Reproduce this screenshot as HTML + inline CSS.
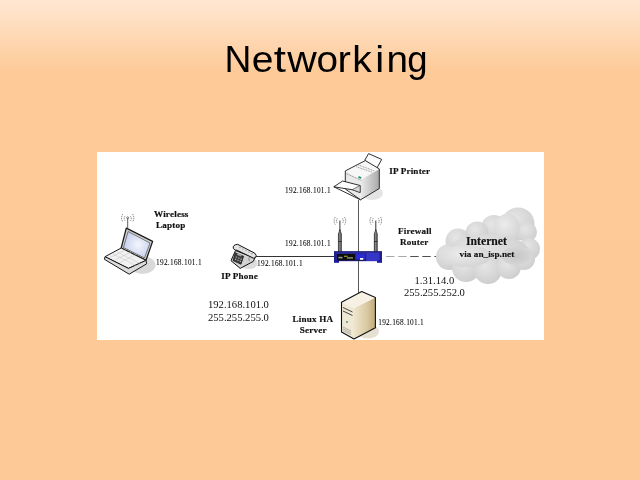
<!DOCTYPE html>
<html><head><meta charset="utf-8">
<style>
html,body{margin:0;padding:0;width:640px;height:480px;overflow:hidden}
body{background:linear-gradient(to bottom,#ffe7d2 0px,#fdca98 72px,#fdc997 480px);position:relative}
svg{position:absolute;left:0;top:0;will-change:transform}
.t{font-family:"Liberation Serif",serif;fill:#111}
.b{font-family:"Liberation Serif",serif;font-weight:bold;fill:#111}
</style></head><body>
<svg width="640" height="480" viewBox="0 0 640 480">
<defs>
<radialGradient id="scr" cx="0.55" cy="0.5" r="0.6"><stop offset="0" stop-color="#f4f6fc"/><stop offset="1" stop-color="#c2cdec"/></radialGradient>
<linearGradient id="side" x1="0" y1="0" x2="1" y2="0"><stop offset="0" stop-color="#ececec"/><stop offset="1" stop-color="#a8a8a8"/></linearGradient>
<linearGradient id="pbody" x1="0" y1="0" x2="1" y2="1"><stop offset="0" stop-color="#e6e6e6"/><stop offset="1" stop-color="#b0b0b0"/></linearGradient>
<linearGradient id="beige" x1="0" y1="0" x2="1" y2="0"><stop offset="0" stop-color="#efe5cc"/><stop offset="0.6" stop-color="#d9c9a2"/><stop offset="1" stop-color="#bfa978"/></linearGradient>
<linearGradient id="ant" x1="0" y1="0" x2="1" y2="0"><stop offset="0" stop-color="#333"/><stop offset="0.5" stop-color="#999"/><stop offset="1" stop-color="#333"/></linearGradient>
<radialGradient id="lobe" cx="0.4" cy="0.35" r="0.7"><stop offset="0" stop-color="#e6e6e6"/><stop offset="1" stop-color="#cdcdcd"/></radialGradient>
<radialGradient id="lobe2" cx="0.4" cy="0.4" r="0.65"><stop offset="0" stop-color="#ececec"/><stop offset="1" stop-color="#d4d4d4"/></radialGradient>
<radialGradient id="lobe3" cx="0.5" cy="0.5" r="0.6"><stop offset="0" stop-color="#c6c6c6"/><stop offset="1" stop-color="#d8d8d8"/></radialGradient>
<linearGradient id="dash" gradientUnits="userSpaceOnUse" x1="386" y1="0" x2="434" y2="0"><stop offset="0" stop-color="#a8a8a8"/><stop offset="0.47" stop-color="#a8a8a8"/><stop offset="0.5" stop-color="#505050"/><stop offset="1" stop-color="#505050"/></linearGradient>
<filter id="blur2" x="-30%" y="-30%" width="160%" height="160%"><feGaussianBlur stdDeviation="3"/></filter>
</defs>
<g style="font-family:'Liberation Sans',sans-serif;font-size:36.5px;fill:#000"><text transform="translate(224.54 72) scale(1.02 1)">N</text><text transform="translate(251.66 72) scale(1.07 1)">e</text><text transform="translate(273.70 72) scale(1.2 1)">t</text><text transform="translate(287.24 72) scale(1.12 1)">w</text><text transform="translate(316.47 72) scale(1.06 1)">o</text><text transform="translate(337.50 72) scale(1.1 1)">r</text><text transform="translate(352.30 72) scale(1.07 1)">k</text><text transform="translate(375.30 72) scale(1.1 1)">i</text><text transform="translate(386.60 72) scale(1.06 1)">n</text><text transform="translate(407.20 72) scale(1.0 1)">g</text></g>
<rect x="97" y="152" width="447" height="188" fill="#fff"/>

<!-- lines -->
<line x1="358.5" y1="200" x2="358.5" y2="293" stroke="#5a5a5a" stroke-width="1"/>
<line x1="255" y1="256.5" x2="334" y2="256.5" stroke="#333" stroke-width="1"/>
<line x1="386.1" y1="256.5" x2="438" y2="256.5" stroke="url(#dash)" stroke-width="1" stroke-dasharray="8.4 3.67"/>

<!-- cloud -->
<g>
<circle cx="518" cy="224" r="16.5" fill="url(#lobe)"/>
<circle cx="527" cy="232" r="10" fill="url(#lobe)"/>
<circle cx="494" cy="228" r="13" fill="url(#lobe)"/>
<circle cx="477" cy="233" r="11.5" fill="url(#lobe)"/>
<circle cx="458" cy="241" r="12.5" fill="url(#lobe)"/>
<circle cx="529" cy="249" r="11" fill="url(#lobe)"/>
<ellipse cx="488" cy="254" rx="42" ry="20" fill="url(#lobe)"/>
<circle cx="449" cy="257" r="13" fill="url(#lobe)"/>
<circle cx="466" cy="268" r="14" fill="url(#lobe)"/>
<circle cx="488" cy="270" r="14" fill="url(#lobe)"/>
<circle cx="509" cy="267" r="12" fill="url(#lobe)"/>
<circle cx="524" cy="259" r="11" fill="url(#lobe)"/>
<circle cx="507" cy="227" r="13" fill="url(#lobe2)"/>
<ellipse cx="466" cy="256" rx="25" ry="11" fill="url(#lobe2)"/>
<ellipse cx="516" cy="256" rx="15" ry="9" fill="url(#lobe3)"/>
</g>
<!-- laptop -->
<ellipse cx="142.5" cy="265" rx="13" ry="9" fill="#d9d9d9"/>
<g stroke="#1a1a1a" stroke-width="1" stroke-linejoin="round">
<polygon points="126.3,228.2 152.6,241.4 146,260.4 121.2,248" fill="#d2d2d2" stroke-width="1.3"/>
<polygon points="128,231.5 150,243 144.5,258 123.5,247.5" fill="url(#scr)" stroke-width="0.5"/>
<polygon points="105,256.7 121.2,248 146,260.4 128.5,268.4" fill="#f1f1f1"/>
<polygon points="105,256.7 128.5,268.4 146,260.4 146.7,263.8 129.2,274.2 104.4,259.3" fill="#dcdcdc"/>
</g>
<g stroke="#c4c4c4" stroke-width="0.5">
<line x1="110" y1="257.5" x2="126" y2="249.5"/><line x1="115" y1="260" x2="131" y2="252"/><line x1="120" y1="262.5" x2="136" y2="254.5"/>
<line x1="113" y1="254" x2="136" y2="265.5"/><line x1="117" y1="252" x2="140" y2="263.5"/>
</g>
<line x1="127.7" y1="218.5" x2="127.7" y2="228.5" stroke="#333" stroke-width="0.8"/>
<g fill="none" stroke="#444" stroke-width="0.7" stroke-dasharray="1.2 0.8">
<path d="M125 216.3 Q123.3 218.5 125 220.7"/><path d="M122.8 214 Q120.3 218 122.8 222"/>
<path d="M130.5 216.3 Q132.2 218.5 130.5 220.7"/><path d="M132.6 214 Q135.1 218 132.6 222"/>
</g>
<circle cx="127.7" cy="217.8" r="1" fill="none" stroke="#333" stroke-width="0.6"/>

<!-- phone -->
<ellipse cx="249" cy="263.5" rx="8.5" ry="5.5" fill="#dcdcdc"/>
<g stroke="#111" stroke-width="1" stroke-linejoin="round">
<polygon points="235.5,250.5 254.8,258 253.3,261.4 240.2,268.4 231,260.7" fill="#d2d2d2"/>
<polygon points="235.3,252.8 243.6,256.3 241,264.2 233,260.6" fill="#3c3c3c" stroke-width="0.7"/>
<path d="M233.3,248.3 Q232.6,244.8 237.6,244.3 L254.8,253.2 Q257.3,255.5 255.6,257.6 L253.5,258.2 L237.2,250.3 Q234.6,250.8 233.3,248.3 Z" fill="#e2e2e2"/>
</g>
<g fill="#c8c8c8"><rect x="235.8" y="256.6" width="1.3" height="1" /><rect x="238.2" y="257.6" width="1.3" height="1"/><rect x="240.5" y="258.6" width="1.3" height="1"/><rect x="235" y="258.8" width="1.3" height="1"/><rect x="237.4" y="259.8" width="1.3" height="1"/><rect x="239.7" y="260.8" width="1.3" height="1"/></g>
<rect x="237" y="254" width="4.5" height="1.6" fill="#aaa" transform="rotate(23 239 255)"/>
<g fill="#777"><circle cx="240" cy="247.6" r="0.55"/><circle cx="243" cy="249.1" r="0.55"/><circle cx="246" cy="250.6" r="0.55"/><circle cx="249" cy="252.1" r="0.55"/><circle cx="252" cy="253.6" r="0.55"/></g>
<path d="M249.5 257 Q248 259 249.5 261" fill="none" stroke="#555" stroke-width="0.6"/>

<!-- printer -->
<ellipse cx="372" cy="193" rx="11" ry="7" fill="#e4e4e4"/>
<polygon points="364.8,160.2 368.6,153.6 381.7,159.4 376.1,169.5" fill="#fbfbfb" stroke="#1a1a1a" stroke-width="0.9" stroke-linejoin="round"/>
<polygon points="345.3,170.9 365.3,160.6 379.3,168.9 361.1,179.8" fill="#f7f7f7"/>
<polygon points="345.3,170.9 361.1,179.8 360.5,199.8 345.3,189" fill="#eaeaea"/>
<polygon points="361.1,179.8 379.3,168.9 379.3,188.5 360.5,199.8" fill="url(#side)"/>
<polygon points="345.3,170.9 365.3,160.6 379.3,168.9 379.3,188.5 360.5,199.8 345.3,189" fill="none" stroke="#1a1a1a" stroke-width="0.9" stroke-linejoin="round"/>
<g stroke="#555" stroke-width="0.6" stroke-dasharray="1 0.7">
<line x1="345.6" y1="173.3" x2="361.5" y2="180.5"/>
<line x1="356.4" y1="166.7" x2="372.3" y2="172.3"/>
<line x1="358.4" y1="165" x2="374" y2="170.8"/>
</g>
<polygon points="333.8,186.8 342.6,181 360.1,185.5 360.1,192.5 352.2,189.7" fill="#fdfdfd" stroke="#1a1a1a" stroke-width="0.9" stroke-linejoin="round"/>
<polygon points="352.2,189.7 360.1,185.5 360.1,192.5" fill="#d6d6d6" stroke="#333" stroke-width="0.6"/>
<line x1="333.8" y1="186.8" x2="360.5" y2="199.8" stroke="#1a1a1a" stroke-width="0.9"/>
<rect x="358.3" y="176.5" width="3" height="2" fill="#2a9a6a" transform="rotate(25 359.8 177.5)"/>

<!-- router -->
<g>
<path d="M338.4,252 L338.4,234 L339.9,229.5 L341.4,234 L341.4,252 Z" fill="url(#ant)" stroke="#1a1a1a" stroke-width="0.6"/>
<path d="M374.3,252 L374.3,234 L375.8,229.5 L377.3,234 L377.3,252 Z" fill="url(#ant)" stroke="#1a1a1a" stroke-width="0.6"/>
<line x1="338.4" y1="241.5" x2="341.4" y2="241.5" stroke="#222" stroke-width="0.8"/>
<line x1="374.3" y1="241.5" x2="377.3" y2="241.5" stroke="#222" stroke-width="0.8"/>
<line x1="339.9" y1="220.6" x2="339.9" y2="231" stroke="#1a1a1a" stroke-width="0.9"/>
<line x1="375.8" y1="220.6" x2="375.8" y2="231" stroke="#1a1a1a" stroke-width="0.9"/>
</g>
<g fill="none" stroke="#3a3a3a" stroke-width="0.65" stroke-dasharray="1.1 0.7">
<path d="M335.3 217 Q332.8 220.8 335.3 224.6"/><path d="M337.3 218.3 Q335.8 220.8 337.3 223.3"/>
<path d="M344.5 217 Q347 220.8 344.5 224.6"/><path d="M342.5 218.3 Q344 220.8 342.5 223.3"/>
<path d="M371.2 217 Q368.7 220.8 371.2 224.6"/><path d="M373.2 218.3 Q371.7 220.8 373.2 223.3"/>
<path d="M380.4 217 Q382.9 220.8 380.4 224.6"/><path d="M378.4 218.3 Q379.9 220.8 378.4 223.3"/>
</g>
<rect x="334" y="251.7" width="48" height="9.5" fill="#3636c6"/>
<rect x="334" y="251.2" width="48" height="1.2" fill="#1c1c6a"/>
<rect x="334" y="252" width="2.6" height="9.5" fill="#20208a"/>
<rect x="379.4" y="252" width="2.6" height="9.5" fill="#20208a"/>
<rect x="334" y="260.5" width="5" height="2.3" fill="#1a1aa0"/>
<rect x="377" y="260.5" width="5" height="2.3" fill="#1a1aa0"/>
<rect x="336.9" y="253.7" width="29.2" height="6.9" fill="#0d0d0d"/>
<rect x="355.2" y="253.7" width="10.5" height="6.1" fill="#2a2ad0"/>
<rect x="360" y="258" width="3.3" height="1.8" fill="#f4f4f4"/>
<rect x="338.5" y="256.8" width="4" height="1.6" fill="#999"/>
<rect x="344" y="255.8" width="3.5" height="0.8" fill="#d8e840"/>
<rect x="347" y="257.2" width="6" height="1.4" fill="#8a9a70"/>

<!-- server -->
<ellipse cx="368" cy="331.5" rx="11" ry="7" fill="#e6e0d2"/>
<polygon points="354,308 375.4,297.5 375.4,327.8 354,339" fill="url(#beige)"/>
<polygon points="341.5,302.2 354,308 354,339 341.5,332" fill="#efe8d4"/>
<polygon points="341.5,302.2 361.7,291.5 375.4,297.5 354,308" fill="#f6f1e4"/>
<polygon points="341.5,302.2 361.7,291.5 375.4,297.5 375.4,327.8 354,339 341.5,332" fill="none" stroke="#111" stroke-width="1.1" stroke-linejoin="round"/>
<g stroke="#333" stroke-width="0.9"><line x1="343" y1="307.5" x2="352.5" y2="312"/><line x1="343" y1="311" x2="352.5" y2="315.5"/></g>
<circle cx="347" cy="322" r="0.9" fill="#3a8a7a"/>
<g stroke="#777" stroke-width="0.5"><line x1="343" y1="327" x2="351" y2="331"/><line x1="343" y1="328.8" x2="351" y2="332.8"/><line x1="343" y1="330.6" x2="351" y2="334.6"/></g>

<!-- texts -->
<g class="b" font-size="9.1" letter-spacing="0.2" stroke="#111" stroke-width="0.18">
<text x="154" y="216.6">Wireless</text>
<text x="156" y="228">Laptop</text>
<text x="221.2" y="279.2">IP Phone</text>
<text x="389.2" y="173.7">IP Printer</text>
<text x="398" y="234">Firewall</text>
<text x="400" y="245">Router</text>
<text x="292.5" y="321.6">Linux HA</text>
<text x="299.7" y="332.6">Server</text>
</g>
<text class="b" x="466" y="245" font-size="11.7" stroke="#111" stroke-width="0.15">Internet</text>
<text class="b" x="459.5" y="256.8" font-size="9.2" letter-spacing="0.05" stroke="#111" stroke-width="0.15">via an_isp.net</text>
<g class="t" font-size="7.3" letter-spacing="0.3" stroke="#000" stroke-width="0.05" style="fill:#000">
<text x="156" y="264.7">192.168.101.1</text>
<text x="257" y="265.6">192.168.101.1</text>
<text x="285" y="245.7">192.168.101.1</text>
<text x="285" y="192.5">192.168.101.1</text>
<text x="378.2" y="325">192.168.101.1</text>
</g>
<g class="t" font-size="10.6">
<text x="414.5" y="283.7">1.31.14.0</text>
<text x="404" y="296">255.255.252.0</text>
<text x="208" y="308">192.168.101.0</text>
<text x="208" y="320.5">255.255.255.0</text>
</g>
</svg>
</body></html>
